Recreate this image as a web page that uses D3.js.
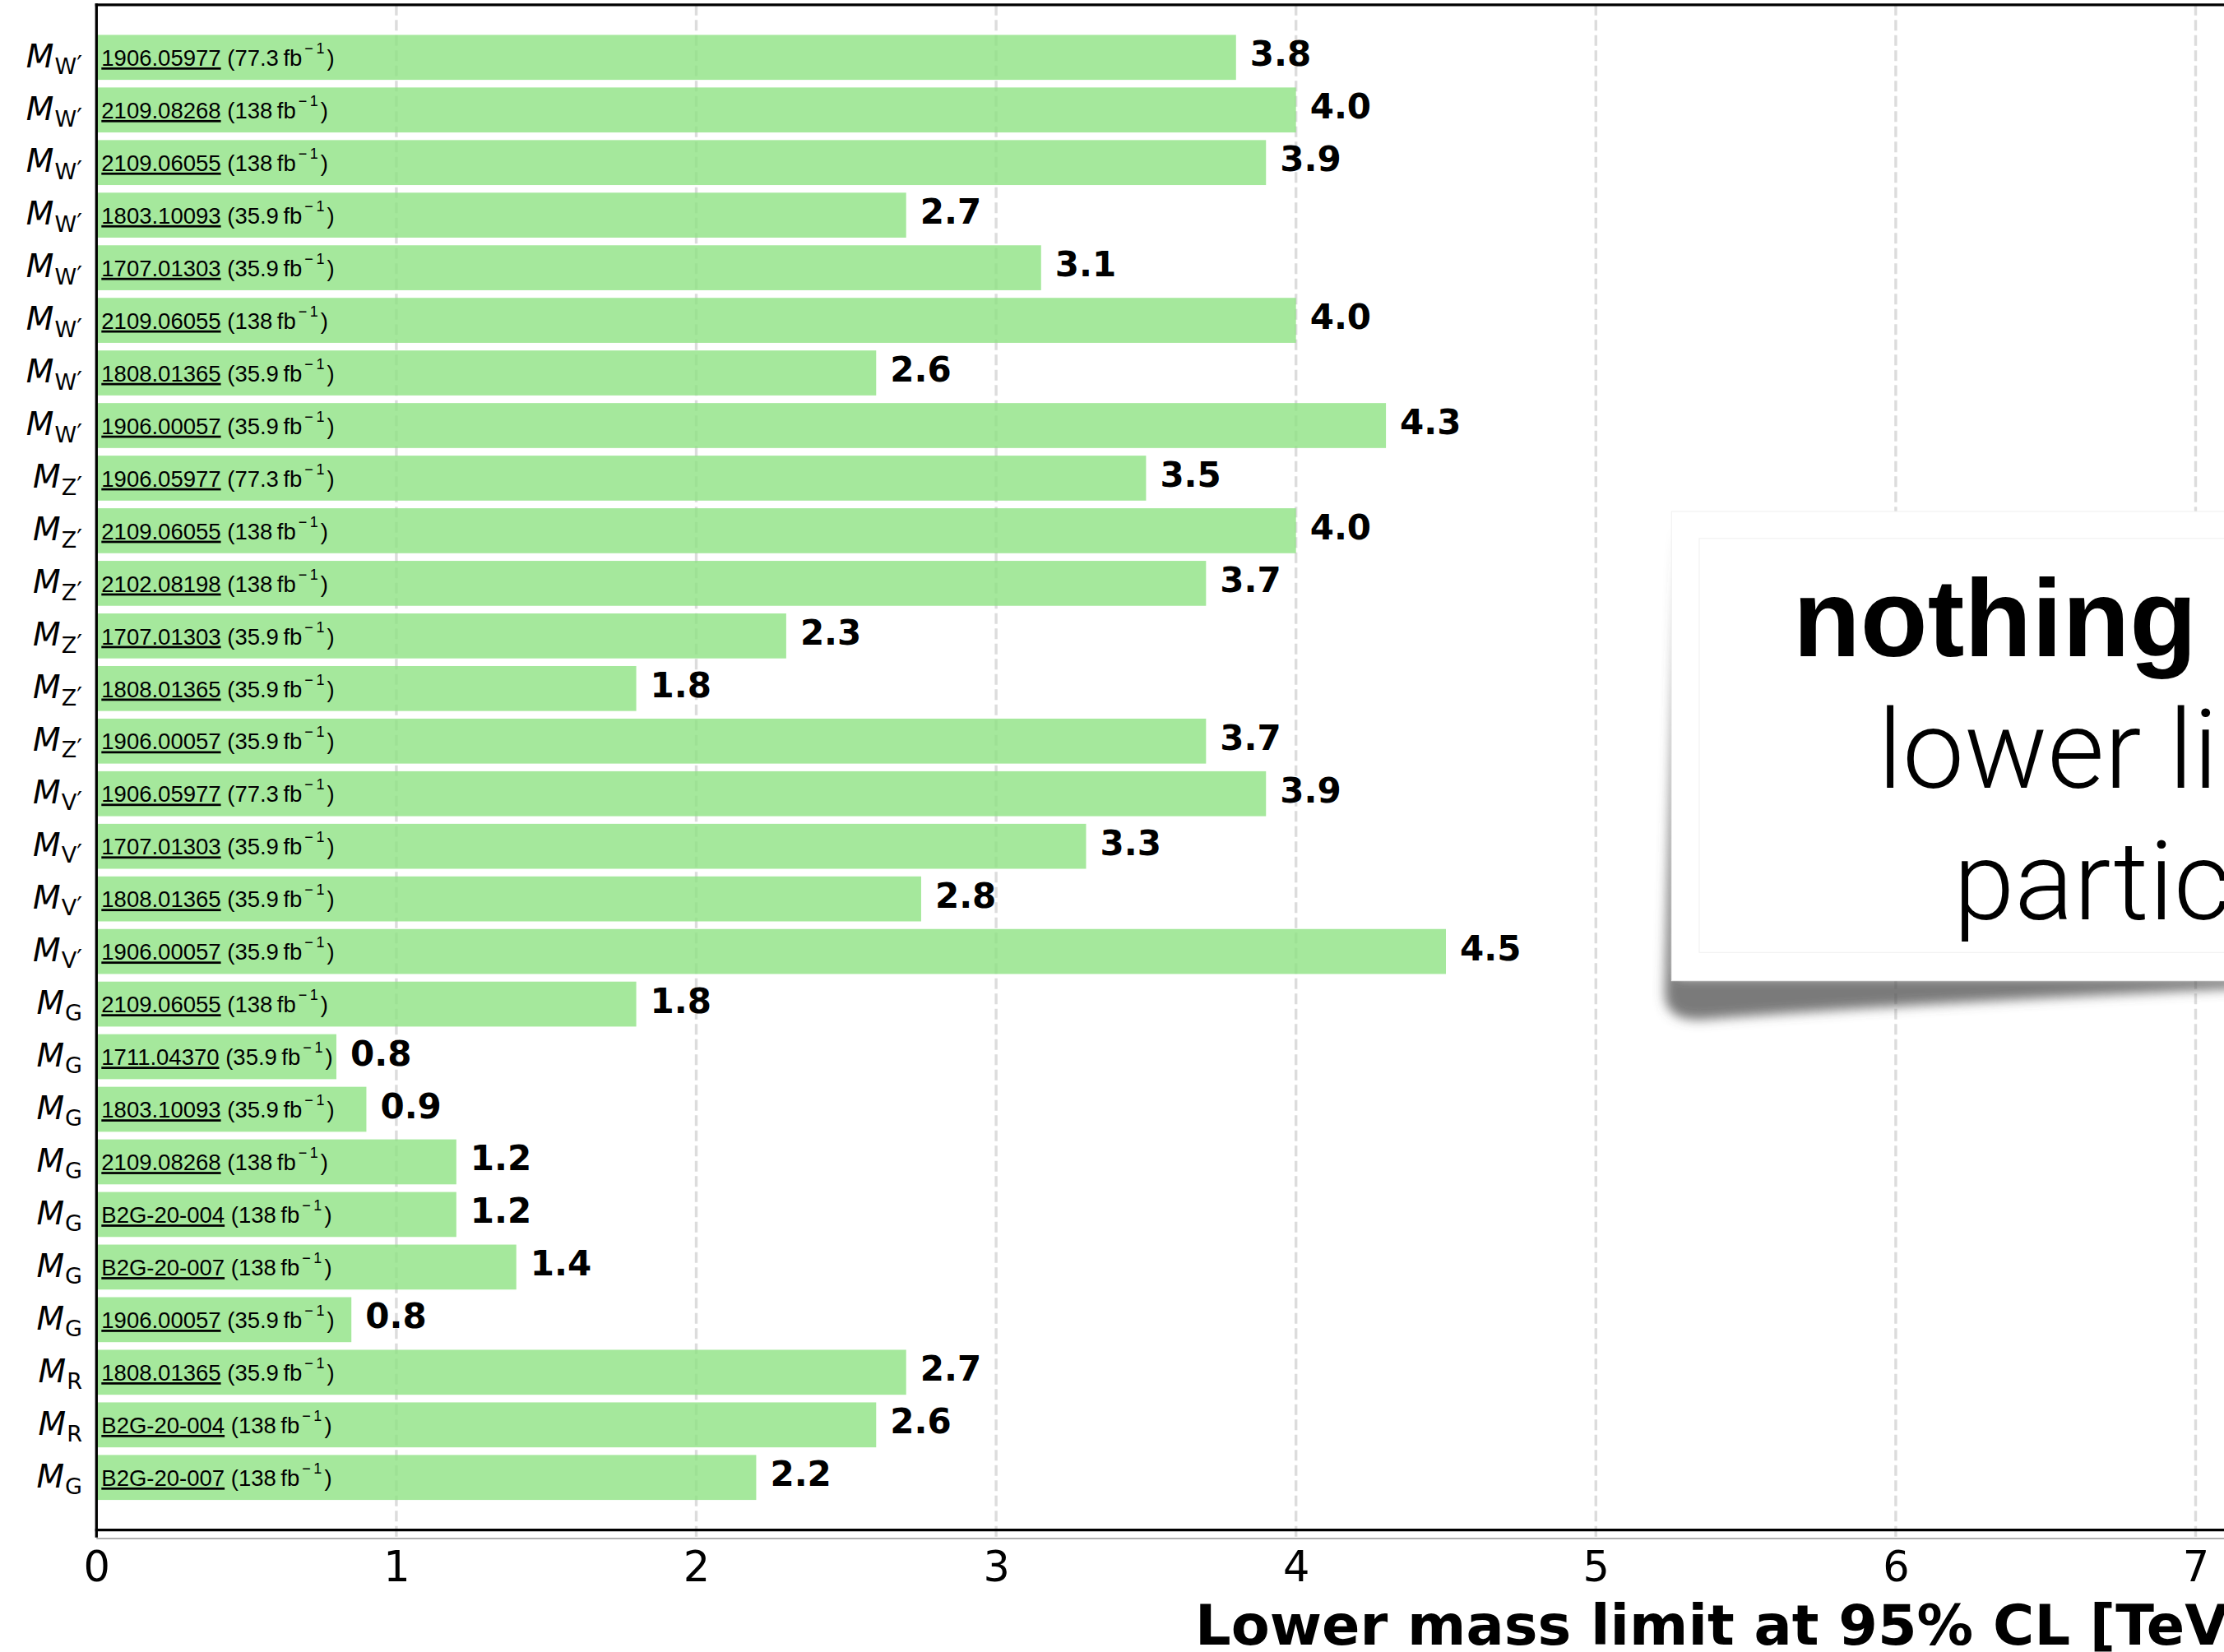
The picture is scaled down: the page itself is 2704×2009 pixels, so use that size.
<!DOCTYPE html>
<html>
<head>
<meta charset="utf-8">
<script src="https://cdn.jsdelivr.net/npm/d3@7"></script>
<style>
  html, body { margin: 0; padding: 0; background: #fff; overflow: hidden; }
</style>
</head>
<body>
<div id="chart"></div>
<script>
const W = 2704, H = 2009;

// particle subscript, reference, luminosity, limit (TeV)
const particles = ["W", "W", "W", "W", "W", "W", "W", "W",
  "Z", "Z", "Z", "Z", "Z", "Z",
  "V", "V", "V", "V",
  "G", "G", "G", "G", "G", "G", "G",
  "R", "R", "G"];
const primed = [1, 1, 1, 1, 1, 1, 1, 1,
  1, 1, 1, 1, 1, 1,
  1, 1, 1, 1,
  0, 0, 0, 0, 0, 0, 0,
  0, 0, 0];
const refs = ["1906.05977", "2109.08268", "2109.06055", "1803.10093", "1707.01303", "2109.06055", "1808.01365", "1906.00057",
  "1906.05977", "2109.06055", "2102.08198", "1707.01303", "1808.01365", "1906.00057",
  "1906.05977", "1707.01303", "1808.01365", "1906.00057",
  "2109.06055", "1711.04370", "1803.10093", "2109.08268", "B2G-20-004", "B2G-20-007", "1906.00057",
  "1808.01365", "B2G-20-004", "B2G-20-007"];
const lumis = ["77.3", "138", "138", "35.9", "35.9", "138", "35.9", "35.9",
  "77.3", "138", "138", "35.9", "35.9", "35.9",
  "77.3", "35.9", "35.9", "35.9",
  "138", "35.9", "35.9", "138", "138", "138", "35.9",
  "35.9", "138", "138"];
const limits = [3.8, 4.0, 3.9, 2.7, 3.15, 4.0, 2.6, 4.3,
  3.5, 4.0, 3.7, 2.3, 1.8, 3.7,
  3.9, 3.3, 2.75, 4.5,
  1.8, 0.8, 0.9, 1.2, 1.2, 1.4, 0.85,
  2.7, 2.6, 2.2];
const xTicks = [0, 1, 2, 3, 4, 5, 6, 7];

const rows = limits.map((v, i) => ({ i: i, sub: particles[i], prime: primed[i], ref: refs[i], lumi: lumis[i], v: v }));

const plot = { left: 117.3, top: 5.8, bottom: 1860.7 };

const svg = d3.select("#chart")
  .append("svg")
  .attr("width", W)
  .attr("height", H)
  .style("display", "block");

const defs = svg.append("defs");
defs.append("filter")
  .attr("id", "blur")
  .attr("x", "-20%").attr("y", "-20%").attr("width", "140%").attr("height", "140%")
  .append("feGaussianBlur")
  .attr("stdDeviation", 7);

const x = d3.scaleLinear().domain([0, 7]).range([plot.left, plot.left + 7 * 364.6]);
const y = d3.scaleLinear().domain([-1, 28]).range([plot.top, plot.bottom]);
const barH = 0.855 * (y(1) - y(0));

// grid
svg.append("g")
  .selectAll("line")
  .data(xTicks.filter(d => d > 0))
  .enter().append("line")
  .attr("x1", d => x(d)).attr("x2", d => x(d))
  .attr("y1", plot.top).attr("y2", plot.bottom + 8)
  .attr("stroke", "#dcdcdc")
  .attr("stroke-width", 3.4)
  .attr("stroke-dasharray", "13,5.5");

// bars
svg.append("g")
  .selectAll("rect")
  .data(rows)
  .enter().append("rect")
  .attr("x", x(0))
  .attr("y", d => y(d.i) - barH / 2)
  .attr("width", d => x(d.v) - x(0))
  .attr("height", barH)
  .attr("fill", "#8ee283")
  .attr("fill-opacity", 0.8);

// spines
svg.append("line")
  .attr("x1", plot.left).attr("x2", W)
  .attr("y1", plot.bottom + 10.3).attr("y2", plot.bottom + 10.3)
  .attr("stroke", "#b0b0b0").attr("stroke-width", 2);
svg.append("line")
  .attr("x1", plot.left - 1.6).attr("x2", W)
  .attr("y1", plot.top).attr("y2", plot.top)
  .attr("stroke", "#000").attr("stroke-width", 3.3);
svg.append("line")
  .attr("x1", plot.left - 1.6).attr("x2", W)
  .attr("y1", plot.bottom).attr("y2", plot.bottom)
  .attr("stroke", "#000").attr("stroke-width", 3.3);
svg.append("line")
  .attr("x1", plot.left).attr("x2", plot.left)
  .attr("y1", plot.top - 1.6).attr("y2", plot.bottom + 9)
  .attr("stroke", "#000").attr("stroke-width", 3.3);

// x axis tick labels
const xAxis = svg.append("g")
  .attr("transform", `translate(0,${plot.bottom})`)
  .call(d3.axisBottom(x).tickValues(xTicks).tickSize(0).tickFormat(d3.format("d")));
xAxis.select(".domain").remove();
xAxis.selectAll("text")
  .attr("y", 62.3)
  .attr("dy", null)
  .style("font-family", "'DejaVu Sans'")
  .style("font-size", "51px")
  .attr("fill", "#000");

// x label
svg.append("text")
  .attr("x", 1453)
  .attr("y", 2000)
  .style("font-family", "'DejaVu Sans'")
  .style("font-weight", "bold")
  .style("font-size", "68.5px")
  .text("Lower mass limit at 95% CL [TeV]");

// y labels  M_{sub}
const yl = svg.append("g")
  .selectAll("text")
  .data(rows)
  .enter().append("text")
  .attr("x", 100)
  .attr("y", d => y(d.i) + 11.8)
  .attr("text-anchor", "end")
  .style("font-family", "'DejaVu Sans'");
yl.append("tspan")
  .style("font-style", "oblique")
  .style("font-size", "39px")
  .text("M");
yl.append("tspan")
  .attr("dy", 8.4)
  .attr("dx", 1)
  .style("font-size", "27px")
  .text(d => d.sub);
yl.filter(d => d.prime).append("tspan")
  .attr("dy", -1)
  .style("font-size", "30px")
  .text("\u2032");

// labels inside bars
const il = svg.append("g")
  .selectAll("text")
  .data(rows)
  .enter().append("text")
  .attr("x", 123.3)
  .attr("y", d => y(d.i) + 10.2)
  .style("font-family", "'Liberation Sans', Arial, sans-serif")
  .style("font-size", "27.5px")
  .attr("fill", "#000");
il.append("tspan")
  .style("text-decoration", "underline")
  .text(d => d.ref);
il.append("tspan")
  .text(d => " (" + d.lumi + "\u2009fb");
il.append("tspan")
  .attr("dy", -15)
  .attr("dx", 3)
  .style("font-size", "18px")
  .text("\u2212\u20091");
il.append("tspan")
  .attr("dy", 15)
  .attr("dx", 3)
  .text(")");

// value labels
svg.append("g")
  .selectAll("text")
  .data(rows)
  .enter().append("text")
  .attr("x", d => x(d.v) + 17)
  .attr("y", d => y(d.i) + 10.5)
  .style("font-family", "'DejaVu Sans'")
  .style("font-weight", "bold")
  .style("font-size", "42px")
  .text(d => d.v.toFixed(1));

// overlay card with curled shadow
const card = svg.append("g");
card.append("path")
  .attr("d", "M2040,640 L2024,1205 Q2022,1242 2070,1240 Q2300,1222 2760,1200 L2760,1188 L2040,1188 Z")
  .attr("fill", "#555")
  .attr("fill-opacity", 0.78)
  .attr("filter", "url(#blur)");
card.append("rect")
  .attr("x", 2032.3).attr("y", 622)
  .attr("width", 900).attr("height", 570.7)
  .attr("fill", "#fff")
  .attr("stroke", "#f0f0f0")
  .attr("stroke-width", 1);
card.append("rect")
  .attr("x", 2066).attr("y", 654.7)
  .attr("width", 900).attr("height", 503.6)
  .attr("fill", "none")
  .attr("stroke", "#f2f2f2")
  .attr("stroke-width", 1.2);

card.append("text")
  .attr("x", 2180)
  .attr("y", 798.3)
  .style("font-family", "'Liberation Sans', Arial, sans-serif")
  .style("font-weight", "bold")
  .style("font-size", "134px")
  .text("nothing");
card.append("text")
  .attr("x", 2283)
  .attr("y", 957.7)
  .style("font-family", "Roboto, sans-serif")
  .style("font-weight", 300)
  .style("font-size", "134px")
  .text("lower limits");
card.append("text")
  .attr("x", 2375)
  .attr("y", 1118.3)
  .style("font-family", "Roboto, sans-serif")
  .style("font-weight", 300)
  .style("font-size", "134px")
  .text("particles");
</script>
</body>
</html>
